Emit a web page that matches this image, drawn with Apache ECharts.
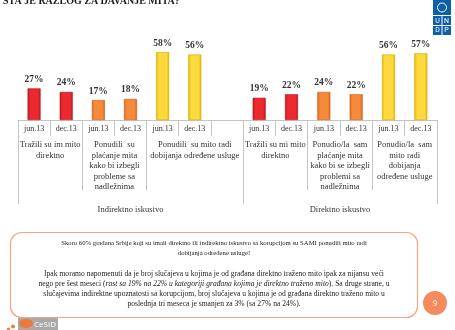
<!DOCTYPE html>
<html>
<head>
<meta charset="utf-8">
<script src="https://cdn.jsdelivr.net/npm/echarts@6/dist/echarts.min.js"></script>
<style>
html,body{margin:0;padding:0;background:#fff;}
#c{width:455px;height:330px;}
</style>
</head>
<body>
<div id="c"></div>
<script>
// ---- data ----
var categoriesLeft = ['jun.13', 'dec.13', 'jun.13', 'dec.13', 'jun.13', 'dec.13', ''];
var valuesLeft = [27, 24, 17, 18, 58, 56, null];
var groupOfLeft = [0, 0, 1, 1, 2, 2, 2];
var groupSizesLeft = [2, 2, 3];
var groupLabelsLeft = ['Tražili su im mito\ndirektno', 'Ponudili  su\nplaćanje mita\nkako bi izbegli\nprobleme sa\nnadležnima', 'Ponudili  su mito radi\ndobijanja određene usluge'];
var levelLabelLeft = 'Indirektno iskustvo';

var categoriesRight = ['jun.13', 'dec.13', 'jun.13', 'dec.13', 'jun.13', 'dec.13'];
var valuesRight = [19, 22, 24, 22, 56, 57];
var groupOfRight = [0, 0, 1, 1, 2, 2];
var groupSizesRight = [2, 2, 2];
var groupLabelsRight = ['Tražili su mi mito\ndirektno', 'Ponudio/la  sam\nplaćanje mita\nkako bi se izbegli\nproblemi sa\nnadležnima', 'Ponudio/la  sam\nmito radi\ndobijanja\nodređene usluge'];
var levelLabelRight = 'Direktno iskustvo';

var titleText = 'ŠTA JE RAZLOG ZA DAVANJE MITA?';
var pageNumber = '9';

// ---- styles ----
var SERIF = '"Liberation Serif", "DejaVu Serif", serif';
var LINE = '#c4c4c4';
function grad(a, b) {
  return {type: 'linear', x: 0, y: 0, x2: 1, y2: 0,
    colorStops: [{offset: 0, color: a}, {offset: 0.2, color: b}, {offset: 0.8, color: b}, {offset: 1, color: a}]};
}
var groupColors = [
  {fill: grad('#c4161c', '#ea2a2f'), border: '#b01218'},
  {fill: grad('#de6218', '#f58a3a'), border: '#cf5a14'},
  {fill: grad('#e8b400', '#fcd93c'), border: '#d9a800'}
];

function items(values, groups) {
  return values.map(function (v, i) {
    var g = groupColors[groups[i]];
    return {value: v, itemStyle: {color: g.fill, borderColor: g.border, borderWidth: 0.6}};
  });
}
function centers(sizes) {
  var out = [], s = 0;
  sizes.forEach(function (n) { out.push(s + n / 2); s += n; });
  return out;
}
function starts(sizes) {
  var out = [], s = 0;
  sizes.forEach(function (n) { out.push(s); s += n; });
  return out;
}

function axesFor(gridIndex, cats, sizes, groupLabels, levelLabel) {
  var n = cats.length;
  var st = starts(sizes);
  var ce = centers(sizes);
  var lineStyle = {color: LINE, width: 1};
  return [
    {type: 'category', gridIndex: gridIndex, data: cats, position: 'bottom',
      axisLine: {show: true, onZero: false, lineStyle: lineStyle},
      axisTick: {show: true, interval: 0, length: 16, lineStyle: lineStyle},
      axisLabel: {interval: 0, margin: 5, fontSize: 8, fontFamily: SERIF, color: '#333'}},
    {type: 'category', gridIndex: gridIndex, data: cats, position: 'bottom',
      axisLine: {show: false, onZero: false},
      axisTick: {show: true, length: 70, lineStyle: lineStyle,
        interval: function (i) { return st.indexOf(i) >= 0; }},
      axisLabel: {show: false}},
    {type: 'category', gridIndex: gridIndex, data: cats, position: 'bottom',
      axisLine: {show: false, onZero: false},
      axisTick: {show: true, length: 84, lineStyle: lineStyle,
        interval: function (i) { return i === 0; }},
      axisLabel: {show: false}},
    {type: 'value', gridIndex: gridIndex, position: 'bottom', min: 0, max: n, interval: 0.5,
      axisLine: {show: false, onZero: false}, axisTick: {show: false}, splitLine: {show: false},
      axisLabel: {margin: 20, fontSize: 8.5, lineHeight: 10.5, fontFamily: SERIF, color: '#333',
        showMinLabel: true, showMaxLabel: true,
        formatter: function (v) {
          for (var k = 0; k < ce.length; k++) if (Math.abs(v - ce[k]) < 1e-6) return groupLabels[k];
          return '';
        }}},
    {type: 'value', gridIndex: gridIndex, position: 'bottom', min: 0, max: n, interval: 0.5,
      axisLine: {show: false, onZero: false}, axisTick: {show: false}, splitLine: {show: false},
      axisLabel: {margin: 85, fontSize: 8.5, lineHeight: 10.5, fontFamily: SERIF, color: '#333',
        formatter: function (v) { return Math.abs(v - n / 2) < 1e-6 ? levelLabel : ''; }}}
  ];
}

var xAxes = axesFor(0, categoriesLeft, groupSizesLeft, groupLabelsLeft, levelLabelLeft)
  .concat(axesFor(1, categoriesRight, groupSizesRight, groupLabelsRight, levelLabelRight));

var barLabel = {show: true, position: 'top', distance: 4, formatter: '{c}%',
  fontSize: 9.5, fontWeight: 'bold', fontFamily: SERIF, color: '#333'};

var paragraph = [
  '{a|Skoro 60% građana Srbije koji su imali direktno ili indirektno iskustvo sa korupcijom su SAMI ponudili mito radi}',
  '{a|dobijanja određene usluge!}',
  '{s| }',
  '{b|Ipak moramo napomenuti da je broj slučajeva u kojima je od građana direktno traženo mito ipak za nijansu veći}',
  '{b|nego pre šest meseci (}{i|rast sa 19% na 22% u kategoriji građana kojima je direktno traženo mito}{b|). Sa druge strane, u}',
  '{b|slučajevima indirektne upoznatosti sa korupcijom, broj slučajeva u kojima je od građana direktno traženo mito u}',
  '{b|poslednja tri meseca je smanjen za 3% (sa 27% na 24%).}'
].join('\n');

var chart = echarts.init(document.getElementById('c'), null, {renderer: 'canvas'});
chart.setOption({
  backgroundColor: '#ffffff',
  animation: false,
  grid: [
    {left: 18, width: 225, top: 3, height: 117},
    {left: 243, width: 194, top: 3, height: 117}
  ],
  xAxis: xAxes,
  yAxis: [
    {type: 'value', gridIndex: 0, min: 0, max: 100, show: false},
    {type: 'value', gridIndex: 1, min: 0, max: 100, show: false}
  ],
  series: [
    {type: 'bar', xAxisIndex: 0, yAxisIndex: 0, barWidth: 13, data: items(valuesLeft, groupOfLeft), label: barLabel},
    {type: 'bar', xAxisIndex: 5, yAxisIndex: 1, barWidth: 13, data: items(valuesRight, groupOfRight), label: barLabel}
  ],
  graphic: [
    {type: 'text', left: 3, top: -4, z: 10,
      style: {text: titleText, fontSize: 10, fontWeight: 'bold', fontFamily: SERIF, fill: '#1a1a1a'}},
    // UNDP logo
    {type: 'rect', shape: {x: 433, y: 0, width: 18, height: 35}, style: {fill: '#0d5fa8'}},
    {type: 'circle', shape: {cx: 442, cy: 7.5, r: 4.5}, style: {fill: 'none', stroke: '#ffffff', lineWidth: 1}},
    {type: 'line', shape: {x1: 433, y1: 15.5, x2: 451, y2: 15.5}, style: {stroke: '#ffffff', lineWidth: 1}},
    {type: 'line', shape: {x1: 433, y1: 25.5, x2: 451, y2: 25.5}, style: {stroke: '#ffffff', lineWidth: 1}},
    {type: 'line', shape: {x1: 442, y1: 16, x2: 442, y2: 35}, style: {stroke: '#ffffff', lineWidth: 1}},
    {type: 'text', style: {text: 'U', x: 437.5, y: 21, align: 'center', verticalAlign: 'middle', fontSize: 7, fontFamily: 'Roboto, sans-serif', fill: '#fff'}},
    {type: 'text', style: {text: 'N', x: 446.5, y: 21, align: 'center', verticalAlign: 'middle', fontSize: 7, fontFamily: 'Roboto, sans-serif', fill: '#fff'}},
    {type: 'text', style: {text: 'D', x: 437.5, y: 30.5, align: 'center', verticalAlign: 'middle', fontSize: 7, fontFamily: 'Roboto, sans-serif', fill: '#fff'}},
    {type: 'text', style: {text: 'P', x: 446.5, y: 30.5, align: 'center', verticalAlign: 'middle', fontSize: 7, fontFamily: 'Roboto, sans-serif', fill: '#fff'}},
    // text box
    {type: 'rect', shape: {x: 10.5, y: 232.5, width: 407, height: 85, r: 11},
      style: {fill: '#ffffff', stroke: '#f2a587', lineWidth: 1.2}},
    {type: 'text', style: {text: paragraph, x: 214, y: 238.5, align: 'center', verticalAlign: 'top',
      fontFamily: SERIF, fill: '#1a1a1a',
      rich: {
        a: {fontSize: 6.7, lineHeight: 9.5, fontFamily: SERIF, fill: '#1a1a1a'},
        b: {fontSize: 7.6, lineHeight: 10.2, fontFamily: SERIF, fill: '#1a1a1a'},
        i: {fontSize: 7.6, lineHeight: 10.2, fontFamily: SERIF, fontStyle: 'italic', fill: '#1a1a1a'},
        s: {fontSize: 5, lineHeight: 11}
      }}},
    // page number
    {type: 'circle', shape: {cx: 435, cy: 303, r: 12}, style: {fill: '#f58a5e'}},
    {type: 'text', style: {text: pageNumber, x: 435, y: 303.5, align: 'center', verticalAlign: 'middle', fontSize: 8, fontFamily: SERIF, fill: '#ffffff'}},
    // CeSID logo
    {type: 'rect', shape: {x: 18, y: 318, width: 40, height: 12}, style: {fill: '#a9a9a9'}},
    {type: 'ellipse', shape: {cx: 26, cy: 323.5, rx: 7, ry: 4.5}, style: {fill: '#f0783a'}},
    {type: 'circle', shape: {cx: 13, cy: 326.5, r: 2}, style: {fill: '#f0783a'}},
    {type: 'circle', shape: {cx: 8.5, cy: 329, r: 1.5}, style: {fill: '#f0783a'}},
    {type: 'text', style: {text: 'CeSID', x: 34, y: 324.5, verticalAlign: 'middle', fontSize: 8, fontFamily: '"Open Sans", sans-serif', fill: '#ffffff'}}
  ]
});
</script>
</body>
</html>
